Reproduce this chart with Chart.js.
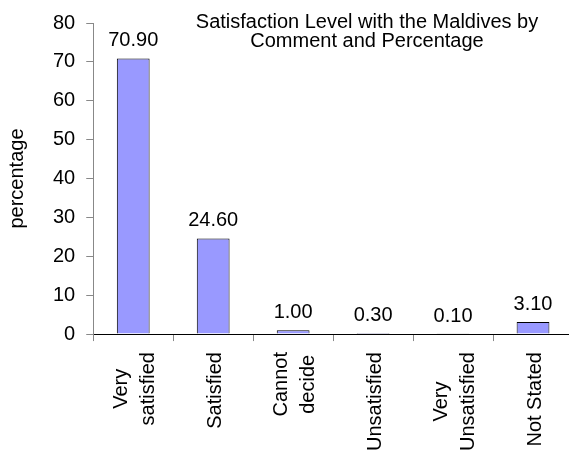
<!DOCTYPE html>
<html>
<head>
<meta charset="utf-8">
<script src="https://cdn.jsdelivr.net/npm/chart.js@4/dist/chart.umd.min.js"></script>
<style>
    html, body { margin: 0; padding: 0; background: #fff; overflow: hidden; }
    canvas { display: block; }
</style>
</head>
<body>
<!-- the plot runs a few pixels past the right edge of the window, like the original -->
<canvas id="myChart" width="573" height="457"></canvas>
<script>
var categories = [["Very", "satisfied"], "Satisfied", ["Cannot", "decide"], "Unsatisfied", ["Very", "Unsatisfied"], "Not Stated"];
var percentages = [70.9, 24.6, 1.0, 0.3, 0.1, 3.1];
var yTicks = [0, 10, 20, 30, 40, 50, 60, 70, 80];
var titleLines = ["Satisfaction Level with the Maldives by", "Comment and Percentage"];
var yTitle = "percentage";

var fontFamily = "'Liberation Sans', Arial, sans-serif";
Chart.defaults.font.family = fontFamily;
Chart.defaults.font.size = 20;
Chart.defaults.color = "#000";

// value labels above the bars
var barLabels = {
    id: "barLabels",
    afterDatasetsDraw: function (chart) {
        var ctx = chart.ctx;
        var meta = chart.getDatasetMeta(0);
        ctx.save();
        ctx.font = "20px " + fontFamily;
        ctx.fillStyle = "#000";
        ctx.textAlign = "center";
        ctx.textBaseline = "alphabetic";
        meta.data.forEach(function (bar, i) {
            ctx.fillText(percentages[i].toFixed(2), bar.x, bar.y - 12);
        });
        ctx.restore();
    },
};

// title sits inside the plot area, and the x labels are centred line by line
var extraText = {
    id: "extraText",
    afterDraw: function (chart) {
        var ctx = chart.ctx;
        var xScale = chart.scales.x;
        ctx.save();
        ctx.font = "20px " + fontFamily;
        ctx.fillStyle = "#000";
        ctx.textAlign = "center";
        ctx.textBaseline = "alphabetic";
        ctx.fillText(titleLines[0], 367, 27.5);
        ctx.fillText(titleLines[1], 367, 46.5);

        categories.forEach(function (label, i) {
            var lines = Array.isArray(label) ? label : [label];
            var x = xScale.getPixelForTick(i);
            var top = xScale.top + 18;
            var maxW = 0;
            lines.forEach(function (t) {
                maxW = Math.max(maxW, ctx.measureText(t).width);
            });
            ctx.save();
            ctx.translate(x, top);
            ctx.rotate(-Math.PI / 2);
            lines.forEach(function (t, j) {
                ctx.fillText(t, -maxW / 2, 7.5 + (j - (lines.length - 1) / 2) * 27);
            });
            ctx.restore();
        });
        ctx.restore();
    },
};

var ctx = document.getElementById("myChart").getContext("2d");

var myChart = new Chart(ctx, {
    type: "bar",
    data: {
        labels: categories,
        datasets: [
            {
                label: "percentage",
                data: percentages,
                backgroundColor: "#9999FF",
                borderColor: "#000",
                borderWidth: 1,
                barPercentage: 0.41,
                categoryPercentage: 1,
            },
        ],
    },
    options: {
        responsive: false,
        animation: false,
        layout: {
            padding: { left: 1, right: 0, top: 17, bottom: -3 },
        },
        plugins: {
            legend: { display: false },
            tooltip: { enabled: false },
        },
        scales: {
            x: {
                grid: {
                    drawOnChartArea: false,
                    tickLength: 7,
                    color: "#888",
                    offset: true,
                },
                border: { color: "#000" },
                ticks: {
                    color: "rgba(0,0,0,0)",
                    minRotation: 90,
                    maxRotation: 90,
                    autoSkip: false,
                    padding: 10,
                },
            },
            y: {
                min: yTicks[0],
                max: yTicks[yTicks.length - 1],
                grid: {
                    drawOnChartArea: false,
                    tickLength: 7,
                    color: "#888",
                },
                border: { color: "#888" },
                ticks: {
                    stepSize: yTicks[1] - yTicks[0],
                    padding: 11,
                    color: "#000",
                },
                title: {
                    display: true,
                    text: yTitle,
                    color: "#000",
                    padding: { top: 4, bottom: 13 },
                },
            },
        },
    },
    plugins: [barLabels, extraText],
});
</script>
</body>
</html>
